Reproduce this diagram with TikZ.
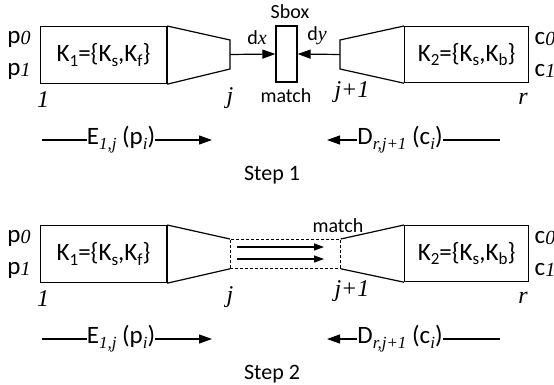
\documentclass[tikz,border=0pt]{standalone}
\usepackage{fontspec}
\setmainfont{Carlito}
\newfontfamily\tms{Liberation Serif}
\usetikzlibrary{arrows.meta}

% italic serif index, lowered subscript, plain subscript
\newcommand\ix[1]{{\tms\itshape #1}}
\newcommand\lsub[1]{\raisebox{-0.35ex}{\fontsize{17}{17}\selectfont #1}}
\newcommand\isub[1]{\raisebox{-0.4ex}{\fontsize{17}{17}\selectfont\tms\itshape #1}}
\newcommand\bigidx[1]{\raisebox{-0.15ex}{\fontsize{20}{20}\selectfont\tms\itshape #1}}

\tikzset{
  txt/.style={font=\fontsize{20}{24}\selectfont, inner sep=0pt},
  big/.style={font=\fontsize{25}{30}\selectfont, inner sep=0pt},
  idx/.style={font=\fontsize{24}{28}\selectfont\tms\itshape, inner sep=0pt},
  kbox/.style={draw, line width=1.2pt, inner sep=0pt, anchor=north west},
  edge/.style={line width=1.2pt},
  arr/.style={line width=1.2pt, -{Triangle[length=13pt,width=9pt]}},
  thin arr/.style={line width=1.1pt, -{Triangle[length=10pt,width=7pt]}},
  flow/.style={line width=1.2pt},
  dbox/.style={draw, densely dashed, line width=0.8pt},
}

\begin{document}
\begin{tikzpicture}[x=1pt,y=-1pt]
\useasboundingbox (0,0) rectangle (554,385);

% ---------- Step 1 ----------
\node[big] (p0a) at (19,39) {p\bigidx{0}};
\node[big] (p1a) at (19,71) {p\bigidx{1}};
\node[big] (c0a) at (545,39) {c\bigidx{0}};
\node[big] (c1a) at (545,71) {c\bigidx{1}};

\node[kbox, minimum width=126pt, minimum height=57pt] (k1a) at (40,26) {};
\node[big] at (k1a.center) {K\lsub{1}=\{K\lsub{s},K\lsub{f}\}};
\draw[line width=2.4pt] (k1a.north east) -- (k1a.south east);
\coordinate (ta1) at (230,40);
\coordinate (tb1) at (230,69);
\coordinate (tm1) at (230,54.5);
\draw[edge] (k1a.north east) -- (ta1) -- (tb1) -- (k1a.south east);

\node[kbox, minimum width=124pt, minimum height=56pt] (k2a) at (404,26) {};
\node[big] at (k2a.center) {K\lsub{2}=\{K\lsub{s},K\lsub{b}\}};
\coordinate (tc1) at (340,40);
\coordinate (td1) at (340,69);
\coordinate (tn1) at (340,54.5);
\draw[edge] (k2a.north west) -- (tc1) -- (td1) -- (k2a.south west);

\node[draw, line width=1.2pt, minimum width=21pt, minimum height=56pt, inner sep=0pt] (sbox) at (286.5,54) {};
\node[txt] (sblab) at (290,12) {Sbox};
\node[txt] (mlab) at (286,96) {match};
\draw[arr] (tm1) -- (sbox.west);
\draw[arr] (tn1) -- (sbox.east);
\node[txt] (dx) at (257,38) {d\ix{x}};
\node[txt] (dy) at (317,36) {d\ix{y}};

\node[idx] (i1a) at (43,100) {1};
\node[idx] (ija) at (230,98) {j};
\node[idx] (ij1a) at (352,92) {j+1};
\node[idx] (ira) at (523,99) {r};

\coordinate (el1) at (42,140);
\coordinate (er1) at (212,140);
\node[big] (E1) at (121,140) {E\isub{1,j} (p\isub{i})};
\draw[flow] (el1) -- (E1.west);
\draw[arr] (E1.east) -- (er1);
\coordinate (dl1) at (327,140);
\coordinate (dr1) at (500,140);
\node[big] (D1) at (400,140) {D\isub{r,j+1} (c\isub{i})};
\draw[arr] (D1.west) -- (dl1);
\draw[flow] (D1.east) -- (dr1);
\node[txt, font=\fontsize{22}{26}\selectfont] (st1) at (272,175) {Step 1};

% ---------- Step 2 ----------
\begin{scope}[shift={(0,199)}]
\node[big] (p0b) at (19,39) {p\bigidx{0}};
\node[big] (p1b) at (19,71) {p\bigidx{1}};
\node[big] (c0b) at (545,39) {c\bigidx{0}};
\node[big] (c1b) at (545,71) {c\bigidx{1}};

\node[kbox, minimum width=126pt, minimum height=57pt] (k1b) at (40,26) {};
\node[big] at (k1b.center) {K\lsub{1}=\{K\lsub{s},K\lsub{f}\}};
\draw[line width=2.4pt] (k1b.north east) -- (k1b.south east);
\node[dbox, minimum width=110pt, minimum height=29pt, inner sep=0pt, anchor=north west] (mbox) at (230,40) {};
\draw[edge] (k1b.north east) -- (mbox.north west);
\draw[edge] (k1b.south east) -- (mbox.south west);

\node[kbox, minimum width=124pt, minimum height=56pt] (k2b) at (404,26) {};
\node[big] at (k2b.center) {K\lsub{2}=\{K\lsub{s},K\lsub{b}\}};
\draw[edge] (k2b.north west) -- (mbox.north east);
\draw[edge] (k2b.south west) -- (mbox.south east);

\coordinate (ma) at (237,48);
\coordinate (mb) at (324,48);
\coordinate (mc) at (237,60);
\coordinate (md) at (324,60);
\draw[thin arr] (ma) -- (mb);
\draw[thin arr] (mc) -- (md);
\node[txt] (mlab2) at (338,27) {match};

\node[idx] (i1b) at (43,100) {1};
\node[idx] (ijb) at (230,98) {j};
\node[idx] (ij1b) at (352,92) {j+1};
\node[idx] (irb) at (523,99) {r};

\coordinate (el2) at (42,140);
\coordinate (er2) at (212,140);
\node[big] (E2) at (121,140) {E\isub{1,j} (p\isub{i})};
\draw[flow] (el2) -- (E2.west);
\draw[arr] (E2.east) -- (er2);
\coordinate (dl2) at (327,140);
\coordinate (dr2) at (500,140);
\node[big] (D2) at (400,140) {D\isub{r,j+1} (c\isub{i})};
\draw[arr] (D2.west) -- (dl2);
\draw[flow] (D2.east) -- (dr2);
\node[txt, font=\fontsize{22}{26}\selectfont] (st2) at (272,175) {Step 2};
\end{scope}
\end{tikzpicture}
\end{document}
